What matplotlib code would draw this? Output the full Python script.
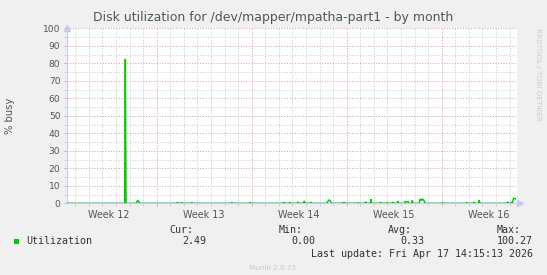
import matplotlib
matplotlib.use('Agg')
import matplotlib.pyplot as plt
from matplotlib.ticker import MultipleLocator

# days counted from the start of ISO week 12 (red lines mark the week starts)
times = [0.37, 4.64, 4.69, 4.74, 5.50, 5.60, 5.68, 5.76,
         8.48, 8.53, 8.58, 8.80, 8.84, 8.88, 9.54, 9.58, 9.62,
         12.49, 12.53, 12.57, 13.84, 13.88, 13.92,
         16.36, 16.40, 16.44, 16.78, 16.82, 16.86, 17.36, 17.40, 17.44,
         17.83, 17.88, 17.93, 18.33, 18.37, 18.41,
         19.56, 19.62, 19.72, 19.82, 19.88,
         20.70, 20.75, 20.80, 20.85, 20.90, 21.82, 21.86, 21.90,
         22.35, 22.40, 22.45, 22.74, 22.79, 22.84,
         23.44, 23.50, 23.56, 23.91, 23.95, 23.99, 24.35, 24.39, 24.43,
         24.72, 24.77, 24.82, 25.26, 25.30, 25.42, 25.52, 25.58,
         25.78, 25.83, 25.88,
         26.35, 26.40, 26.48, 26.56, 26.64, 26.72, 26.78,
         28.03, 28.07, 28.11, 29.81, 29.85, 29.89,
         30.36, 30.40, 30.44, 30.72, 30.77, 30.82,
         32.81, 32.86, 32.91, 33.10, 33.15, 33.22, 33.30, 33.45]
busy = [0, 0, 82.5, 0, 0, 1.8, 1.0, 0,
        0, 0.6, 0, 0, 0.5, 0, 0, 0.6, 0,
        0, 0.6, 0, 0, 0.6, 0,
        0, 0.7, 0, 0, 0.7, 0, 0, 0.8, 0,
        0, 1.4, 0, 0, 0.7, 0,
        0, 1.2, 1.9, 1.0, 0,
        0, 0.6, 0, 0.6, 0, 0, 0.5, 0,
        0, 0.9, 0, 0, 2.4, 0,
        0, 0.7, 0, 0, 0.6, 0, 0, 0.8, 0,
        0, 1.3, 0, 0, 1.0, 0.8, 1.0, 0,
        0, 1.6, 0,
        0, 2.4, 1.6, 2.4, 2.0, 1.2, 0,
        0, 0.5, 0, 0, 0.5, 0,
        0, 0.7, 0, 0, 1.8, 0,
        0, 0.8, 0, 0, 0.5, 0.3, 2.9, 2.49]

week_labels = ['Week 12', 'Week 13', 'Week 14', 'Week 15', 'Week 16']
week_centers = [3.5, 10.5, 17.5, 24.5, 31.5]

legend_cols = ['Cur:', 'Min:', 'Avg:', 'Max:']
legend_vals = ['2.49', '0.00', '0.33', '100.27']

W, H = 547, 275
fig = plt.figure(figsize=(W / 100, H / 100), dpi=100, facecolor='#f0f0f0')
ax = fig.add_axes([66.7 / W, (H - 203.3) / H, (517 - 66.7) / W, 175 / H])
ax.set_facecolor('white')

ax.set_xlim(0.37, 33.55)
ax.set_ylim(0, 100)

# grid
ax.xaxis.set_major_locator(MultipleLocator(7))
ax.xaxis.set_minor_locator(MultipleLocator(1))
ax.yaxis.set_major_locator(MultipleLocator(10))
ax.yaxis.set_minor_locator(MultipleLocator(5))
ax.grid(which='minor', color='#cfcfcf', linestyle=(0, (1, 1.6)), linewidth=0.75)
ax.grid(which='major', color='#e8a0a0', linestyle=(0, (1, 1.6)), linewidth=0.75)
ax.set_axisbelow(True)

ax.plot(times, busy, color='#00cc00', linewidth=1.1, solid_joinstyle='miter', zorder=3)

for s in ['top', 'right']:
    ax.spines[s].set_visible(False)
for s in ['left', 'bottom']:
    ax.spines[s].set_color('#c8c8f0')
    ax.spines[s].set_linewidth(0.8)
ax.plot([0], [1.0], marker='^', color='#c8c8f0', markersize=4, transform=ax.transAxes, clip_on=False)
ax.plot([1.006], [0], marker='>', color='#c8c8f0', markersize=4, transform=ax.transAxes, clip_on=False)

ax.tick_params(axis='both', which='major', length=2.5, width=0.7, color='#e8a0a0',
               labelsize=6.6, labelcolor='#555555', pad=2)
ax.tick_params(axis='both', which='minor', length=2.5, width=0.7, color='#cfcfcf')
ax.set_yticks(range(0, 101, 10))
ax.set_yticklabels([str(v) for v in range(0, 101, 10)])
ax.set_xticklabels([])
for c, lab in zip(week_centers, week_labels):
    ax.text(c, -4.0, lab, ha='center', va='top', fontsize=6.9, color='#555555')

ax.set_ylabel('% busy', fontsize=7.2, color='#555555')
ax.yaxis.set_label_coords((15 - 66.7) / (517 - 66.7), 0.5)

fig.text(273 / W, 1 - 18 / H, 'Disk utilization for /dev/mapper/mpatha-part1 - by month',
         ha='center', va='center', fontsize=9.0, color='#555555')
fig.text(538 / W, 1 - 28 / H, 'RRDTOOL / TOBI OETIKER', rotation=-90, ha='center', va='top',
         fontsize=5.2, color='#cccccc')

mono = 'DejaVu Sans Mono'
fig.patches.append(plt.Rectangle((14 / W, 1 - 244 / H), 5 / W, 5 / H, transform=fig.transFigure,
                                 facecolor='#00cc00', edgecolor='none'))
fig.text(26 / W, 1 - 241.4 / H, 'Utilization', family=mono, fontsize=7.2, color='#333333', va='center')
col_right = [193.6, 303, 412, 520.6]
val_right = [206.6, 315, 424, 532.8]
for x, t in zip(col_right, legend_cols):
    fig.text(x / W, 1 - 230 / H, t, family=mono, fontsize=7.2, color='#333333', ha='right', va='center')
for x, t in zip(val_right, legend_vals):
    fig.text(x / W, 1 - 241.4 / H, t, family=mono, fontsize=7.2, color='#333333', ha='right', va='center')
fig.text(532.8 / W, 1 - 254.3 / H, 'Last update: Fri Apr 17 14:15:13 2026', family=mono,
         fontsize=7.2, color='#333333', ha='right', va='center')
fig.text(273 / W, 1 - 267.6 / H, 'Munin 2.0.75', fontsize=5.2, color='#c8c8c8', ha='center', va='center')

fig.savefig('out.png', dpi=100, facecolor=fig.get_facecolor())
